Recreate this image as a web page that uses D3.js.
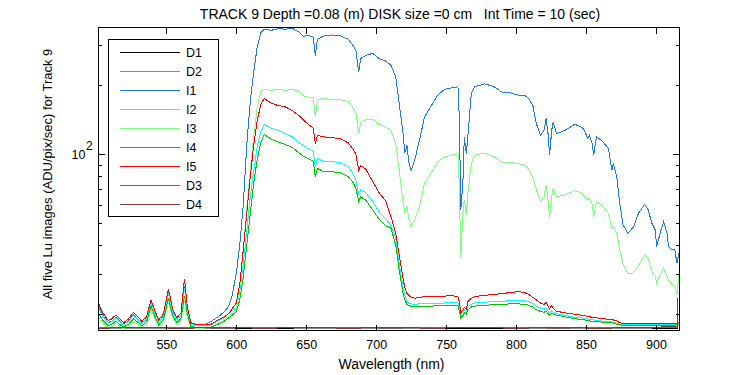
<!DOCTYPE html>
<html>
<head>
<meta charset="utf-8">
<script src="https://cdn.jsdelivr.net/npm/d3@7"></script>
<style>
  body { margin: 0; background: #fff; }
  svg { display: block; font-family: "Liberation Sans", Arial, sans-serif; font-size: 12px; }
  .frame { fill: none; stroke: #000; stroke-width: 1; shape-rendering: crispEdges; }
  .tick line { stroke: #000; shape-rendering: crispEdges; }
  .series { fill: none; stroke-width: 1; shape-rendering: crispEdges; }
</style>
</head>
<body>
<svg id="chart" width="750" height="375"></svg>
<script>
// wavelengths (nm) shared by the five image series
const wavelength = [
  501.5, 505, 508.5, 511, 514, 517, 519.5, 523, 526.5, 530,
  532.5, 536, 539, 542, 544.5, 548, 551.5, 554.5, 557.5, 560.5,
  563, 565, 567.5, 572, 577, 582, 587, 591, 594.5, 597,
  600, 602.5, 605, 607.5, 610, 612.5, 615, 617.5, 620, 625,
  630, 635, 640, 645, 648, 652, 655, 656.5, 658, 662,
  668, 674, 680, 683, 685.5, 687.5, 689, 692.5, 697.5, 702,
  707, 710.5, 714, 716.5, 719, 720.5, 722, 723.5, 725, 727.5,
  731, 734.5, 739, 744, 749, 754, 758.5, 759.5, 760.5, 762,
  763, 764.5, 765.5, 768, 770.5, 777.5, 784.5, 789.5, 796.5, 801.5,
  806, 809, 812, 814.5, 817.5, 820, 821.5, 823, 824, 825.5,
  826.5, 829, 835, 842, 847, 849, 851, 852.5, 854.5, 855.5,
  857.5, 861, 866, 868.5, 869.5, 872, 874, 876.5, 880, 884,
  887.5, 892, 894.5, 897, 899.5, 900.5, 903, 905.5, 908, 909,
  911.5, 913.5, 915, 916.5
];

const I1 = [
  21.5, 19.5, 18.3, 18.6, 19.4, 18.5, 18.0, 18.6, 19.9, 18.9,
  18.2, 19.2, 22.6, 20.2, 18.5, 19.6, 25.0, 20.5, 18.9, 19.8,
  26.5, 21.0, 18.1, 17.8, 17.9, 18.5, 19.4, 20.3, 21.5, 24.0,
  30, 40, 60, 110, 170, 230, 295, 340, 352, 348,
  354, 352, 355, 342, 328, 330, 325, 270, 318, 328,
  332, 330, 318, 302, 285, 228, 262, 270, 276, 262,
  255, 245, 218, 166, 127, 101, 109, 91, 85, 94,
  115, 145, 161, 181, 192, 195, 197, 141, 57, 74.5,
  119, 100, 119, 184, 197, 203, 197, 187, 185, 181,
  181, 175, 163, 136, 121, 127, 143, 121, 99, 127,
  138, 123, 127, 135, 131, 127, 117, 121, 111, 99,
  119, 115, 106, 85, 91, 79.6, 62, 49, 45, 48,
  55, 60.3, 57, 50, 46.6, 39.4, 45, 50.6, 45, 39.4,
  38.1, 38.1, 33.3, 37
];
const I2 = [
  21.2, 19.3, 18.2, 18.5, 19.2, 18.4, 17.9, 18.5, 19.7, 18.8,
  18.1, 19.0, 22.3, 20.0, 18.4, 19.4, 24.6, 20.3, 18.8, 19.7,
  26.0, 20.8, 18.0, 17.7, 17.7, 17.9, 18.6, 19.2, 20.0, 20.6,
  21.3, 25, 33, 46, 65, 85, 108, 125, 135, 130,
  127, 123, 119, 112, 109, 105, 103, 88, 95.8, 93,
  92.5, 92, 88, 83, 77, 67, 69.6, 68, 62, 56,
  52, 49, 43, 33, 26.5, 24, 22.6, 22.2, 22.1, 22.0,
  22.1, 22.1, 22.2, 22.2, 22.3, 22.3, 22.3, 21.5, 19.8, 20.4,
  20.8, 20.5, 21.5, 22.0, 22.3, 22.5, 22.6, 22.7, 22.8, 22.9,
  22.8, 22.6, 22.2, 21.6, 21.2, 20.9, 21.2, 20.5, 20.2, 20.6,
  20.3, 20.0, 19.7, 19.3, 19.2, 19.1, 19.0, 18.9, 18.8, 18.8,
  18.7, 18.6, 18.5, 18.4, 18.4, 18.2, 18.0, 17.9, 17.9, 17.9,
  17.9, 17.9, 17.9, 17.9, 17.9, 17.9, 17.9, 17.9, 17.9, 17.9,
  17.9, 17.9, 18.0, 18.0
];
const I3 = [
  19.3, 18.1, 17.4, 17.6, 18.2, 17.6, 17.2, 17.6, 18.5, 17.9,
  17.4, 18.1, 20.9, 19.0, 17.6, 18.5, 22.6, 19.2, 17.9, 18.7,
  23.0, 19.5, 17.4, 17.3, 17.3, 17.5, 18.1, 18.7, 19.5, 20.0,
  21.0, 26, 38, 58, 85, 120, 160, 188, 192, 190,
  192, 190, 192, 188, 180, 177, 176, 146, 172, 175,
  173, 173, 170, 161, 152, 123, 138, 141, 142, 135,
  131, 127, 111, 85, 63, 55, 59, 51.5, 48, 51.5,
  59, 74.5, 82, 92.5, 97.3, 99, 100.7, 72, 35, 55,
  63, 54, 67, 91, 99, 101, 97.3, 92.5, 91.6, 91,
  89.5, 86, 79, 70, 62, 65, 73, 63, 52.5, 65,
  70.8, 65, 66.2, 69.1, 67.7, 65, 63, 64, 60, 53.3,
  61.9, 59.9, 55, 47.3, 48, 45, 38.5, 33, 30, 30.2,
  32.5, 36.2, 35, 30.6, 29.1, 27.2, 29.6, 31.7, 29.1, 28,
  26.8, 26.4, 24.2, 29.6
];
const I4 = [
  20.0, 18.6, 17.7, 18.0, 18.6, 17.9, 17.5, 18.0, 19.0, 18.3,
  17.7, 18.5, 21.6, 19.4, 17.9, 18.9, 23.4, 19.7, 18.3, 19.1,
  24.0, 20.0, 17.6, 17.4, 17.4, 17.5, 18.0, 18.5, 19.2, 19.7,
  20.4, 23, 29, 40, 55, 75, 95, 112, 122, 116,
  113, 110, 107, 101, 98, 95, 93, 79.6, 86.6, 84,
  83.7, 83, 79.6, 76, 71, 62, 65, 63, 57, 52,
  48.5, 47.5, 40, 31, 25, 23, 22, 21.7, 21.6, 21.5,
  21.6, 21.6, 21.6, 21.7, 21.7, 21.7, 21.7, 20.5, 19.2, 19.6,
  20.2, 19.9, 20.8, 21.4, 21.6, 21.8, 21.9, 22.0, 22.1, 22.1,
  22.0, 21.8, 21.4, 20.8, 20.5, 20.3, 20.6, 20.0, 19.7, 20.1,
  19.9, 19.7, 19.4, 19.0, 18.9, 18.8, 18.7, 18.6, 18.5, 18.5,
  18.5, 18.4, 18.3, 18.3, 18.2, 18.0, 17.9, 17.8, 17.8, 17.8,
  17.8, 17.8, 17.8, 17.8, 17.8, 17.8, 17.8, 17.8, 17.8, 17.8,
  17.8, 17.8, 17.9, 17.9
];
const I5 = [
  22.2, 20.0, 18.7, 19.0, 19.8, 18.9, 18.3, 19.0, 20.3, 19.3,
  18.5, 19.5, 23.0, 20.5, 18.8, 20.0, 25.7, 21.0, 19.2, 20.2,
  28.5, 21.5, 18.3, 17.9, 17.9, 18.0, 18.8, 19.3, 20.0, 21.0,
  22.3, 27, 38, 55, 80, 110, 140, 165, 175, 167,
  163, 161, 155, 147, 141, 134, 130, 111, 121, 119,
  118, 117, 112, 106, 100, 85, 89, 86, 76, 68,
  62, 53.5, 45, 36, 29, 26, 24.5, 24.0, 23.6, 23.4,
  23.6, 23.8, 23.8, 23.9, 23.9, 24.0, 23.8, 22.3, 20.2, 20.8,
  21.3, 21.0, 22.6, 23.4, 23.8, 24.1, 24.3, 24.5, 24.8, 25.0,
  24.8, 24.3, 23.6, 23.0, 22.3, 22.0, 22.4, 21.6, 21.0, 21.8,
  21.2, 20.5, 20.2, 19.9, 19.7, 19.6, 19.5, 19.4, 19.3, 19.3,
  19.2, 19.1, 18.9, 18.8, 18.8, 18.6, 18.3, 18.1, 18.1, 18.1,
  18.1, 18.1, 18.1, 18.1, 18.1, 18.1, 18.1, 18.1, 18.1, 18.1,
  18.1, 18.1, 18.2, 18.4
];

// dark frames, nearly flat
const darkWavelength = [501.5, 530, 560, 590, 620, 650, 680, 710, 740, 770, 800, 830, 860, 890, 915.4, 915.6];
const D1 = [17.2, 17.2, 17.3, 17.2, 17.2, 17.3, 17.2, 17.2, 17.3, 17.2, 17.2, 17.3, 17.2, 17.2, 17.3, 17.3];
const D2 = [17.3, 17.3, 17.3, 17.3, 17.4, 17.3, 17.3, 17.3, 17.3, 17.4, 17.3, 17.3, 17.3, 17.3, 17.4, 17.4];
const D3 = [17.4, 17.4, 17.4, 17.3, 17.4, 17.4, 17.4, 17.3, 17.4, 17.4, 17.4, 17.3, 17.4, 17.4, 17.5, 17.5];
const D4 = [17.3, 17.4, 17.3, 17.4, 17.3, 17.4, 17.3, 17.4, 17.3, 17.4, 17.3, 17.4, 17.3, 17.4, 17.6, 23.5];

const seriesNames = ['D1', 'D2', 'I1', 'I2', 'I3', 'I4', 'I5', 'D3', 'D4'];
const seriesColors = ['#000000', '#8c8c8c', '#1e78e6', '#00ffff', '#80ff80', '#00c800', '#ff0000', '#7f5f5f', '#7f3a3a'];

const xTicks = [550, 600, 650, 700, 750, 800, 850, 900];
const yMinorTicks = [20, 30, 40, 50, 60, 70, 80, 90, 200, 300];
const yMajorTicks = [100];

const titleText = 'TRACK 9 Depth =0.08 (m) DISK size =0 cm   Int Time = 10 (sec)';
const xLabel = 'Wavelength (nm)';
const yLabel = 'All five Lu images (ADU/pix/sec) for Track 9';

const W = 750, H = 375;
const M = { left: 98.5, right: 71, top: 27.5, bottom: 44.5 };
const pw = W - M.left - M.right, ph = H - M.top - M.bottom;

const svg = d3.select('#chart');
const g = svg.append('g').attr('transform', `translate(${M.left},${M.top})`);

const x = d3.scaleLinear().domain([501.5, 916.5]).range([0, pw]);
const y = d3.scaleLog().domain([16.9, 358]).range([ph, 0]);

const clip = svg.append('defs').append('clipPath').attr('id', 'clip');
clip.append('rect').attr('width', pw).attr('height', ph);

// series data
const imageSeries = { I1, I2, I3, I4, I5 };
const darkSeries = { D1, D2, D3, D4 };
const series = seriesNames.map((name, i) => {
  const isDark = name in darkSeries;
  const vals = isDark ? darkSeries[name] : imageSeries[name];
  const wls = isDark ? darkWavelength : wavelength;
  return { name, color: seriesColors[i], points: wls.map((w, j) => [w, vals[j]]) };
});

const line = d3.line().x(d => x(d[0])).y(d => y(d[1]));

g.append('g').attr('clip-path', 'url(#clip)')
  .selectAll('path').data(series).join('path')
  .attr('class', 'series')
  .attr('stroke', d => d.color)
  .attr('d', d => line(d.points));

// axes: ticks point inward on all four sides
const noLabel = () => '';
g.append('g').attr('transform', `translate(0,${ph})`)
  .call(d3.axisBottom(x).tickValues(xTicks).tickSizeInner(-6).tickSizeOuter(0).tickPadding(10))
  .call(a => a.select('.domain').remove())
  .call(a => a.selectAll('text').attr('fill', '#000').style('font-size', '12.5px').style('font-family', 'inherit'));
g.append('g')
  .call(d3.axisTop(x).tickValues(xTicks).tickSizeInner(-6).tickSizeOuter(0).tickFormat(noLabel))
  .call(a => a.select('.domain').remove());

[[d3.axisLeft, 0], [d3.axisRight, pw]].forEach(([axis, tx]) => {
  g.append('g').attr('transform', `translate(${tx},0)`)
    .call(axis(y).tickValues(yMinorTicks).tickSizeInner(-3.5).tickSizeOuter(0).tickFormat(noLabel))
    .call(a => a.select('.domain').remove());
  g.append('g').attr('transform', `translate(${tx},0)`)
    .call(axis(y).tickValues(yMajorTicks).tickSizeInner(-6).tickSizeOuter(0).tickFormat(noLabel))
    .call(a => a.select('.domain').remove());
});

// 10^2 label
yMajorTicks.forEach(v => {
  const exp = Math.round(Math.log10(v));
  g.append('text').attr('x', -13).attr('y', y(v) + 5).attr('text-anchor', 'end')
    .style('font-size', '12.5px').text('10');
  g.append('text').attr('x', -12.5).attr('y', y(v) - 4).text(String(exp));
});

g.append('rect').attr('class', 'frame').attr('width', pw).attr('height', ph);

// legend
const lg = g.append('g').attr('transform', 'translate(10,12)');
lg.append('rect').attr('class', 'frame').style('fill', '#fff')
  .attr('width', 110).attr('height', 177);
const rows = lg.selectAll('.lrow').data(series).join('g')
  .attr('class', 'lrow')
  .attr('transform', (d, i) => `translate(0,${12.5 + i * 19.1})`);
rows.append('line').attr('x1', 11).attr('x2', 71.5)
  .attr('stroke', d => d.color).style('shape-rendering', 'crispEdges');
rows.append('text').attr('x', 77.5).attr('y', 4.5).style('font-size', '12.5px').text(d => d.name);

// titles
svg.append('text').attr('x', 400).attr('y', 18.5).attr('text-anchor', 'middle')
  .style('font-size', '14px').style('white-space', 'pre').text(titleText);
svg.append('text').attr('x', 391.5).attr('y', 368.5).attr('text-anchor', 'middle')
  .style('font-size', '14px').text(xLabel);
svg.append('text').attr('transform', `translate(52,174) rotate(-90)`)
  .attr('text-anchor', 'middle').style('font-size', '13px').text(yLabel);
</script>
</body>
</html>
